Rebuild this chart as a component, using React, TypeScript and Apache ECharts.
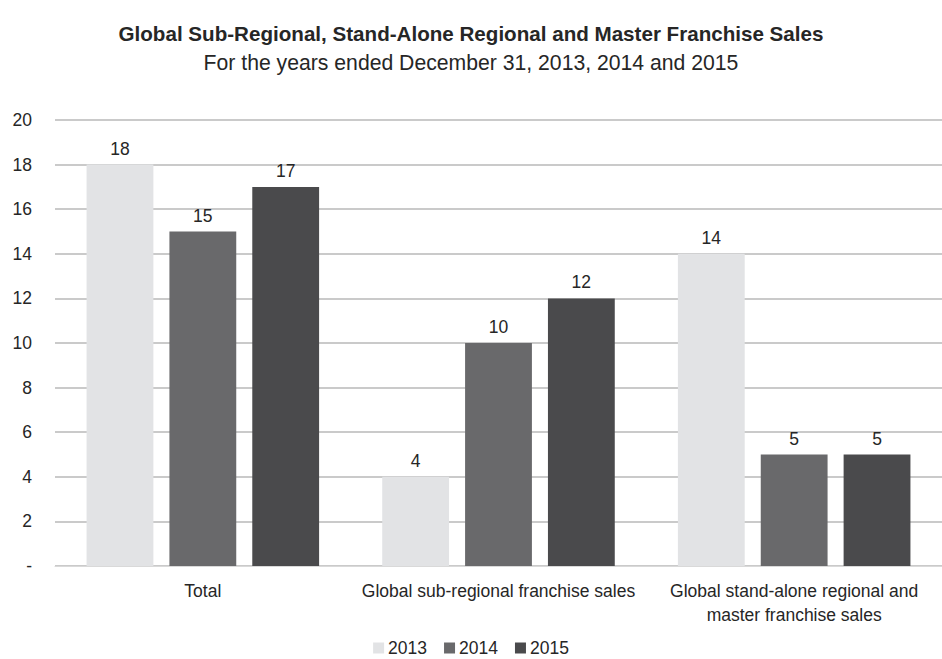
import React, { useEffect, useRef } from "react";
import * as echarts from "echarts";

const categories = [
  "Total",
  "Global sub-regional franchise sales",
  "Global stand-alone regional and\nmaster franchise sales",
];
const years = ["2013", "2014", "2015"];
const sales2013 = [18, 4, 14];
const sales2014 = [15, 10, 5];
const sales2015 = [17, 12, 5];
const yearColors = ["#e2e3e5", "#69696b", "#4a4a4c"];

const FONT = "'Liberation Sans', Arial, sans-serif";
const LABEL_SIZE = 17.5;

export default function App() {
  const ref = useRef<HTMLDivElement>(null);

  useEffect(() => {
    if (!ref.current) return;
    const chart = echarts.init(ref.current, undefined, { renderer: "svg" });
    const seriesData = [sales2013, sales2014, sales2015];
    chart.setOption({
      animation: false,
      backgroundColor: "#ffffff",
      textStyle: { fontFamily: FONT },
      title: {
        text: "Global Sub-Regional, Stand-Alone Regional and Master Franchise Sales",
        subtext: "For the years ended December 31, 2013, 2014 and 2015",
        left: "center",
        top: 18,
        itemGap: 8,
        textStyle: { fontFamily: FONT, fontSize: 20.6, fontWeight: "bold", color: "#262626" },
        subtextStyle: { fontFamily: FONT, fontSize: 21.2, color: "#262626" },
      },
      legend: {
        top: 634,
        left: "center",
        itemWidth: 11,
        itemHeight: 11,
        itemGap: 17,
        icon: "rect",
        textStyle: { fontFamily: FONT, fontSize: LABEL_SIZE, color: "#262626", padding: [0, 0, 0, -1] },
        data: years,
      },
      grid: { left: 55, right: 0, top: 120, bottom: 93 },
      xAxis: {
        type: "category",
        data: categories,
        axisLine: { lineStyle: { color: "#d9d9d9" } },
        axisTick: { show: false },
        axisLabel: {
          fontFamily: FONT,
          fontSize: LABEL_SIZE,
          color: "#262626",
          margin: 13,
          lineHeight: 24,
          interval: 0,
        },
      },
      yAxis: {
        type: "value",
        min: 0,
        max: 20,
        interval: 2,
        axisLine: { show: false },
        axisTick: { show: false },
        splitLine: { lineStyle: { color: "#b8b8b8", width: 1.5 } },
        axisLabel: {
          fontFamily: FONT,
          fontSize: LABEL_SIZE,
          color: "#262626",
          margin: 23,
          formatter: (v: number) => (v === 0 ? "-" : String(v)),
        },
      },
      series: years.map((y, i) => ({
        name: y,
        type: "bar",
        data: seriesData[i],
        barWidth: "22.6%",
        barGap: "24%",
        itemStyle: { color: yearColors[i] },
        label: {
          show: true,
          position: "top",
          distance: 7,
          fontFamily: FONT,
          fontSize: LABEL_SIZE,
          color: "#262626",
        },
      })),
    });
    return () => chart.dispose();
  }, []);

  return (
    <div
      ref={ref}
      style={{ position: "fixed", left: 0, top: 0, width: 942, height: 659 }}
    />
  );
}
